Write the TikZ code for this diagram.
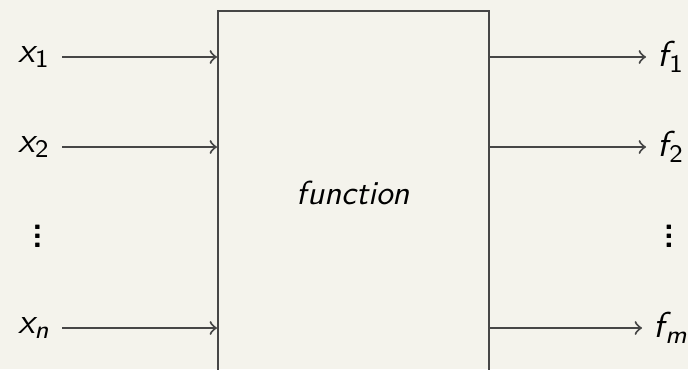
\documentclass[tikz,border=0pt]{standalone}
\usetikzlibrary{positioning}
\definecolor{slidebg}{RGB}{244,243,236}
\definecolor{linegray}{RGB}{70,70,70}
\newcommand{\sublab}[3][0pt]{{\itshape #2}\kern#1\textsubscript{#3}}
\newcommand{\vdotlab}{\vbox{\baselineskip2.7pt\lineskiplimit0pt\hbox{\bfseries.}\hbox{\bfseries.}\hbox{\bfseries.}}}
\begin{document}
\begin{tikzpicture}[x=0.3pt,y=0.3pt,font=\sffamily]
    \tikzset{link/.style={->,draw=linegray,line width=0.6pt},
        varlab/.style={font=\sffamily\fontsize{10.8}{13}\selectfont}}
    \fill[slidebg] (0,0) rectangle (688,369);
    \clip (0,0) rectangle (688,369);
    \node[draw=linegray,line width=0.6pt,minimum width=81.3pt,minimum height=109.2pt] (fn) at (353.5,176) {\textit{function}};
    \node[varlab,anchor=east] (x1) at (62,312) {\sublab{x}{1}};
    \node[varlab,anchor=east] (x2) at (62,222) {\sublab{x}{2}};
    \node (xd) at (37.5,133) {\vdotlab};
    \node[varlab,anchor=east] (xn) at (62,41) {\sublab{x}{\itshape n}};
    \node[varlab,anchor=west] (f1) at (646,312) {\sublab[0.2pt]{f}{1}};
    \node[varlab,anchor=west] (f2) at (646,222) {\sublab[0.2pt]{f}{2}};
    \node (fd) at (669,133) {\vdotlab};
    \node[varlab,anchor=west] (fm) at (642,41) {\sublab[0.2pt]{f}{\itshape m}};
    \draw[link] (x1.east) -- (x1.east -| fn.west);
    \draw[link] (x2.east) -- (x2.east -| fn.west);
    \draw[link] (xn.east) -- (xn.east -| fn.west);
    \draw[link] (f1.west -| fn.east) -- (f1.west);
    \draw[link] (f2.west -| fn.east) -- (f2.west);
    \draw[link] (fm.west -| fn.east) -- (fm.west);
\end{tikzpicture}
\end{document}
